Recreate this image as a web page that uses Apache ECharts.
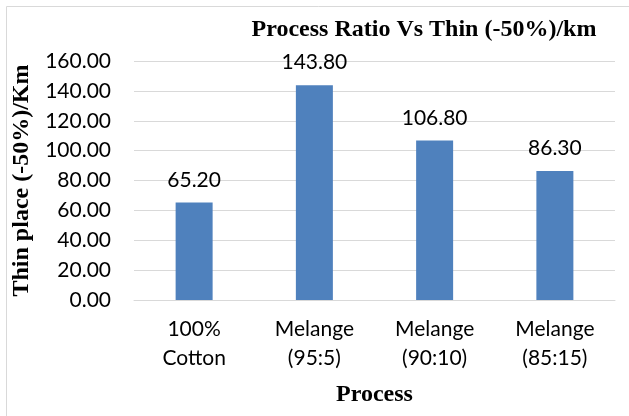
<!DOCTYPE html>
<html><head><meta charset="utf-8">
<script src="https://cdn.jsdelivr.net/npm/echarts@6/dist/echarts.min.js"></script>
<style>html,body{margin:0;padding:0;background:#fff}#c{width:629px;height:416px}</style>
</head><body><div id="c"></div>
<script>
const categories = ['100%\nCotton', 'Melange\n(95:5)', 'Melange\n(90:10)', 'Melange\n(85:15)'];
const values = [65.20, 143.80, 106.80, 86.30];
const yTicks = [0, 20, 40, 60, 80, 100, 120, 140, 160];

const chart = echarts.init(document.getElementById('c'));
chart.setOption({
  animation: false,
  title: {
    text: 'Process Ratio Vs Thin (-50%)/km',
    left: 419, top: 13, textAlign: 'center',
    textStyle: {fontFamily: 'Liberation Serif', fontWeight: 'bold', fontSize: 24, color: '#000'}
  },
  graphic: [{
    type: 'rect', shape: {x: 6.5, y: 6.5, width: 700, height: 500},
    style: {fill: 'none', stroke: '#d9d9d9', lineWidth: 1}
  }],
  grid: {left: 134, right: 14, top: 61, bottom: 116, containLabel: false},
  xAxis: {
    type: 'category', data: categories,
    name: 'Process', nameLocation: 'middle', nameGap: 83,
    nameTextStyle: {fontFamily: 'Liberation Serif', fontWeight: 'bold', fontSize: 24, color: '#000'},
    axisLine: {lineStyle: {color: '#d9d9d9', width: 1}},
    axisTick: {show: false},
    axisLabel: {fontFamily: 'Lato', fontSize: 21, color: '#000', lineHeight: 29, margin: 15}
  },
  yAxis: {
    type: 'value', min: 0, max: 160, interval: 20,
    name: 'Thin place (-50%)/Km', nameLocation: 'middle', nameGap: 94, nameRotate: 90,
    nameTextStyle: {fontFamily: 'Liberation Serif', fontWeight: 'bold', fontSize: 24, color: '#000'},
    axisLine: {show: false}, axisTick: {show: false},
    splitLine: {lineStyle: {color: '#d9d9d9', width: 1}},
    axisLabel: {fontFamily: 'Lato', fontSize: 21, color: '#000', margin: 23,
      formatter: v => yTicks.includes(v) ? v.toFixed(2) : ''}
  },
  series: [{
    type: 'bar', data: values, barWidth: 37,
    itemStyle: {color: '#4f81bd'},
    label: {show: true, position: 'top', distance: 12, fontFamily: 'Lato', fontSize: 21, color: '#000',
      formatter: p => p.value.toFixed(2)}
  }]
});
</script></body></html>
